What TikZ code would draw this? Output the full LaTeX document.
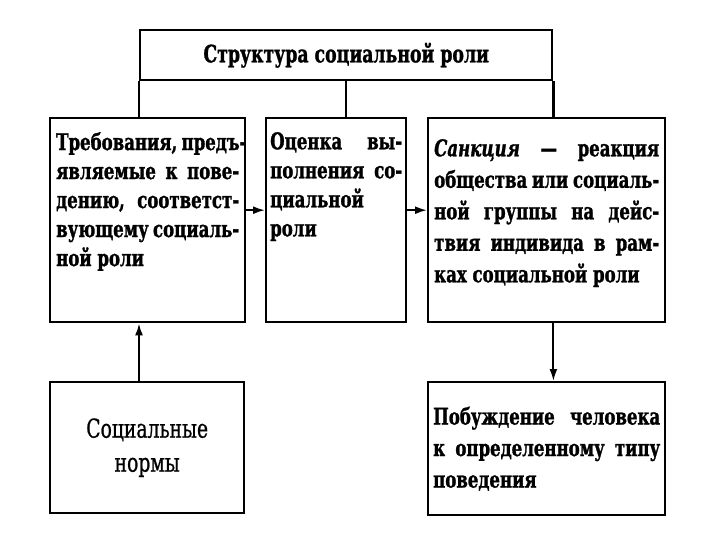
\documentclass[tikz,border=0pt]{standalone}
\usepackage{fontspec}
\setmainfont{DejaVu Serif}[FakeStretch=0.72, UprightFeatures={FakeBold=0.8}, BoldFeatures={FakeBold=1.2}, BoldItalicFeatures={FakeBold=1.2}]
\usepackage{tikz}
\usetikzlibrary{positioning,arrows.meta}

\newcommand{\jline}[1]{\makebox[\linewidth][s]{#1}}

\tikzset{
	blok/.style={draw, line width=2.4pt, anchor=north west, inner xsep=6pt, inner ysep=14pt},
	tekst/.style={font=\bfseries\fontsize{23}{29}\selectfont},
	strelka/.style={line width=2pt, -{Latex[length=12pt,width=8pt]}},
	linija/.style={line width=2.4pt}
}

\begin{document}
\begin{tikzpicture}[x=1pt, y=-1pt]
	\useasboundingbox (0,0) rectangle (720,540);
	
	% Заголовок
	\node[blok, inner sep=0pt, minimum width=412pt, minimum height=50pt, font=\bfseries\fontsize{24}{28}\selectfont] (title) at (139,29) {Структура социальной роли};
	
	% Три составляющие роли
	\node[blok, tekst] (demands) at (49,117) {\parbox[t][176pt][t]{183pt}{%
		\jline{Требования, предъ-}\\
		\jline{являемые к пове-}\\
		\jline{дению, соответст-}\\
		\jline{вующему социаль-}\\
		ной роли}};
	\node[blok, tekst, inner xsep=4pt] (assessment) at (265,117) {\parbox[t][176pt][t]{132pt}{%
		\jline{Оценка вы-}\\
		\jline{полнения со-}\\
		циальной\\
		роли}};
	\node[blok, tekst, inner ysep=21pt] (sanction) at (427,117) {\parbox[t][162pt][t]{225pt}{\fontsize{23}{31.5}\selectfont
		\jline{\textit{Санкция} — реакция}\\
		\jline{общества или социаль-}\\
		\jline{ной группы на дейс-}\\
		\jline{твия индивида в рам-}\\
		ках социальной роли}};
	
	% Нижние блоки
	\node[blok, inner sep=0pt, minimum width=194pt, minimum height=131pt, align=center, font=\fontsize{26}{34}\selectfont] (norms) at (49,381) {Социальные\\нормы};
	\node[blok, tekst, inner xsep=5pt, inner ysep=0pt, minimum height=133pt] (motive) at (427,381) {\parbox{227pt}{\fontsize{23}{31.5}\selectfont
		\jline{Побуждение человека}\\
		\jline{к определенному типу}\\
		поведения}};
	
	% Связи
	\draw[linija] (title.south west) -- (title.south west |- demands.north);
	\draw[linija] (title.south) -- (title.south |- assessment.north);
	\draw[linija] (title.south east) -- (title.south east |- sanction.north);
	\draw[strelka] ([yshift=10pt]demands.east) -- ([yshift=10pt]demands.east -| assessment.west);
	\draw[strelka] ([yshift=10pt]assessment.east) -- ([yshift=10pt]assessment.east -| sanction.west);
	\draw[strelka] (norms.north -| title.south west) -- (demands.south -| title.south west);
	\draw[strelka] (sanction.south -| title.south east) -- (motive.north -| title.south east);
\end{tikzpicture}
\end{document}
